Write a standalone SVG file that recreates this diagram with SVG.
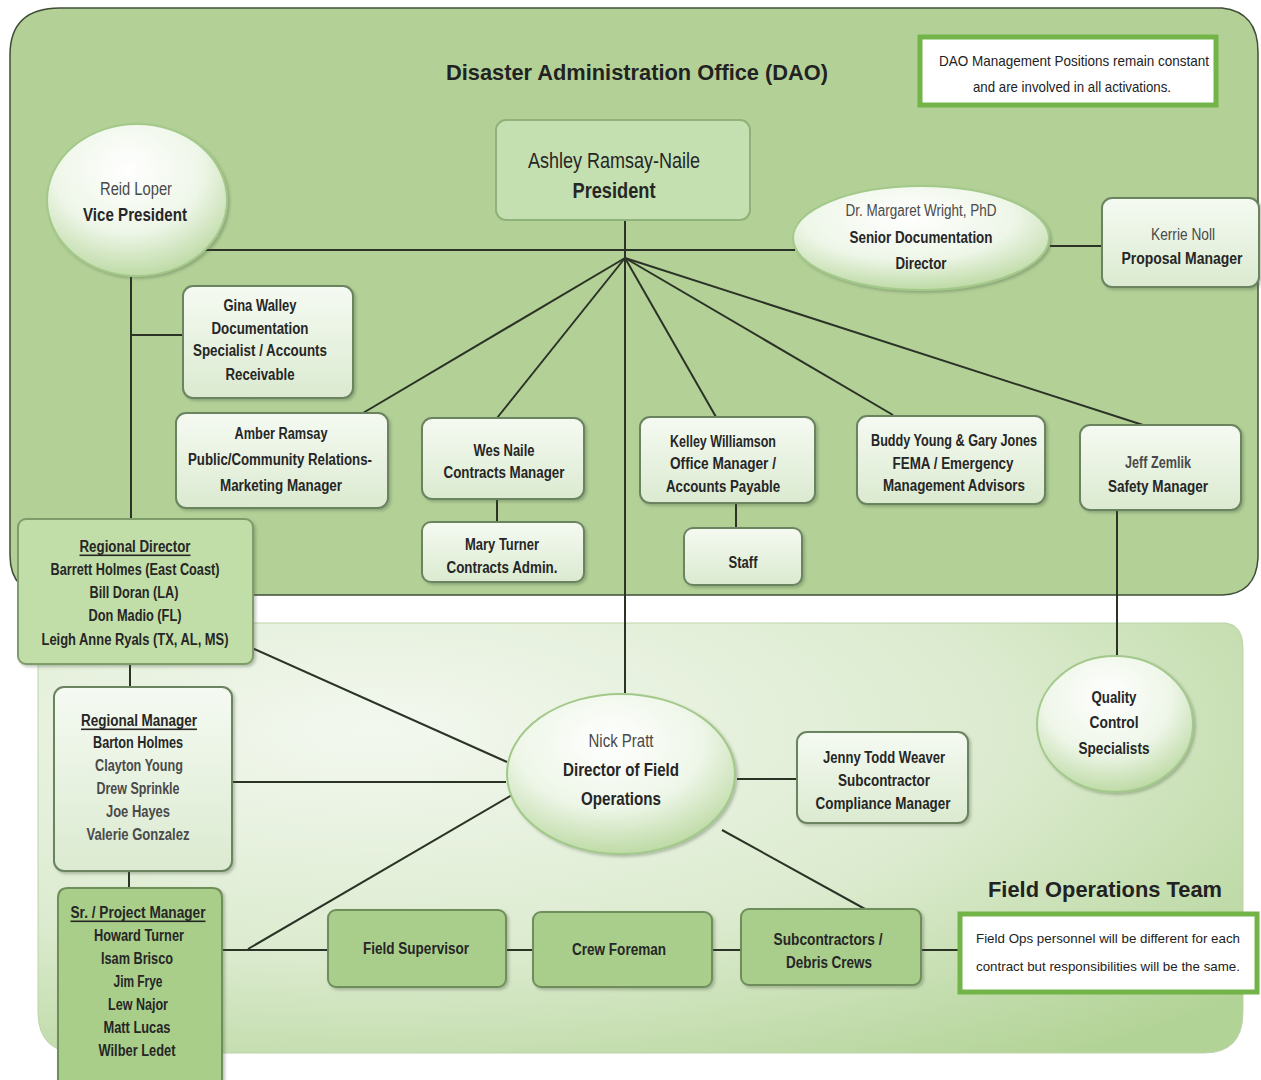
<svg xmlns="http://www.w3.org/2000/svg" width="1261" height="1080" viewBox="0 0 1261 1080">
<defs>
<radialGradient id="fieldG" cx="0.28" cy="0.25" r="0.95">
<stop offset="0" stop-color="#f3f8ef"/>
<stop offset="0.55" stop-color="#dcebcf"/>
<stop offset="1" stop-color="#b2d396"/>
</radialGradient>
<radialGradient id="ellG" cx="0.45" cy="0.3" r="0.75">
<stop offset="0" stop-color="#ffffff"/>
<stop offset="0.55" stop-color="#eef6e8"/>
<stop offset="1" stop-color="#b6d69b"/>
</radialGradient>
<linearGradient id="lightG" x1="0" y1="0" x2="0" y2="1">
<stop offset="0" stop-color="#f5faf2"/>
<stop offset="1" stop-color="#dbead0"/>
</linearGradient>
<filter id="sh" x="-10%" y="-10%" width="125%" height="125%">
<feDropShadow dx="2" dy="2" stdDeviation="1.5" flood-color="#4a5a40" flood-opacity="0.35"/>
</filter>
</defs>
<style>
text{font-family:"Liberation Sans Narrow","Liberation Sans",Arial,sans-serif;fill:#262626;text-anchor:middle;dominant-baseline:central;font-size:16px;font-weight:bold}
.n{font-weight:normal}
.g{fill:#4a4a4a}
.u{text-decoration:underline}
.big{font-size:22px}
.hd{font-family:"Liberation Sans",Arial,sans-serif;font-size:22px;font-weight:bold;fill:#222}
.note{font-size:15px;font-weight:normal;fill:#222}
.fn{font-size:13.5px;font-weight:normal;fill:#222}
.lb{fill:url(#lightG);stroke:#6b8460;stroke-width:2}
.db{fill:#a9ce8b;stroke:#6f8e5c;stroke-width:2}
.el{fill:url(#ellG);stroke:#a3c98a;stroke-width:2}
.nb{fill:#ffffff;stroke:#72b448;stroke-width:5}
.c line{stroke:#2b3326;stroke-width:2}
</style>
<rect x="0" y="0" width="1261" height="1080" fill="#ffffff"/>
<g id="panel-dao">
<path d="M10,55 Q10,8 60,8 L1222,8 Q1258,12 1258,52 L1258,558 Q1256,594 1222,595 L52,595 Q10,595 10,555 Z" fill="#b3d197" stroke="#3f4d37" stroke-width="1.5"/>
</g>
<g id="panel-field">
<path d="M38,652 Q38,623 66,623 L1226,623 Q1243,625 1243,648 L1243,1012 Q1243,1053 1204,1053 L80,1053 Q38,1053 38,1012 Z" fill="url(#fieldG)" stroke="#bcd4aa" stroke-width="1"/>
</g>
<text class="hd" x="637" y="72" textLength="382" lengthAdjust="spacingAndGlyphs">Disaster Administration Office (DAO)</text>
<text class="hd" x="1105" y="889" textLength="234" lengthAdjust="spacingAndGlyphs">Field Operations Team</text>
<g class="c" id="connectors">
<line x1="203" y1="250" x2="795" y2="250"/>
<line x1="625" y1="220" x2="625" y2="693"/>
<line x1="625" y1="258" x2="363" y2="413"/>
<line x1="625" y1="258" x2="497" y2="418"/>
<line x1="625" y1="258" x2="716" y2="417"/>
<line x1="625" y1="258" x2="893" y2="415"/>
<line x1="625" y1="258" x2="1143" y2="425"/>
<line x1="1050" y1="246" x2="1102" y2="246"/>
<line x1="131" y1="277" x2="131" y2="519"/>
<line x1="131" y1="335" x2="184" y2="335"/>
<line x1="497" y1="499" x2="497" y2="522"/>
<line x1="736" y1="503" x2="736" y2="528"/>
<line x1="1117" y1="510" x2="1117" y2="656"/>
<line x1="130" y1="664" x2="130" y2="687"/>
<line x1="129" y1="871" x2="129" y2="887"/>
<line x1="252" y1="648" x2="507" y2="762"/>
<line x1="232" y1="782" x2="506" y2="782"/>
<line x1="248" y1="949" x2="512" y2="795"/>
<line x1="737" y1="779" x2="797" y2="779"/>
<line x1="722" y1="830" x2="865" y2="909"/>
<line x1="222" y1="950" x2="328" y2="950"/>
<line x1="506" y1="950" x2="533" y2="950"/>
<line x1="712" y1="950" x2="741" y2="950"/>
<line x1="921" y1="950" x2="958" y2="950"/>
</g>
<g id="dao-note">
<rect class="nb" x="920" y="37" width="296" height="68"/>
<text class="note" x="1074" y="60" textLength="270" lengthAdjust="spacingAndGlyphs">DAO Management Positions remain constant</text>
<text class="note" x="1072" y="86" textLength="198" lengthAdjust="spacingAndGlyphs">and are involved in all activations.</text>
</g>
<g id="president">
<rect x="496" y="120" width="254" height="100" rx="10" fill="#c5e0b0" stroke="#8fb27a" stroke-width="2"/>
<text class="big n" x="614" y="160" textLength="172" lengthAdjust="spacingAndGlyphs">Ashley Ramsay-Naile</text>
<text class="big" x="614" y="190" textLength="83" lengthAdjust="spacingAndGlyphs">President</text>
</g>
<g id="vice-president">
<ellipse class="el" cx="137" cy="200" rx="90" ry="76" filter="url(#sh)"/>
<text class="n g" x="136" y="189" style="font-size:18px" textLength="72" lengthAdjust="spacingAndGlyphs">Reid Loper</text>
<text x="135" y="214" style="font-size:19px" textLength="104" lengthAdjust="spacingAndGlyphs">Vice President</text>
</g>
<g id="margaret">
<ellipse class="el" cx="921" cy="238" rx="128" ry="52" filter="url(#sh)"/>
<text class="n g" x="921" y="210" textLength="151" lengthAdjust="spacingAndGlyphs">Dr. Margaret Wright, PhD</text>
<text x="921" y="237" textLength="143" lengthAdjust="spacingAndGlyphs">Senior Documentation</text>
<text x="921" y="263" textLength="51" lengthAdjust="spacingAndGlyphs">Director</text>
</g>
<g id="kerrie">
<rect class="lb" x="1102" y="198" width="157" height="89" rx="10" filter="url(#sh)"/>
<text class="n g" x="1183" y="234" textLength="64" lengthAdjust="spacingAndGlyphs">Kerrie Noll</text>
<text x="1182" y="258" textLength="121" lengthAdjust="spacingAndGlyphs">Proposal Manager</text>
</g>
<g id="gina">
<rect class="lb" x="183" y="286" width="170" height="112" rx="10" filter="url(#sh)"/>
<text x="260" y="305" textLength="73" lengthAdjust="spacingAndGlyphs">Gina Walley</text>
<text x="260" y="328" textLength="97" lengthAdjust="spacingAndGlyphs">Documentation</text>
<text x="260" y="350" textLength="134" lengthAdjust="spacingAndGlyphs">Specialist / Accounts</text>
<text x="260" y="374" textLength="69" lengthAdjust="spacingAndGlyphs">Receivable</text>
</g>
<g id="amber">
<rect class="lb" x="176" y="413" width="212" height="95" rx="10" filter="url(#sh)"/>
<text x="281" y="433" textLength="93" lengthAdjust="spacingAndGlyphs">Amber Ramsay</text>
<text x="280" y="459" textLength="184" lengthAdjust="spacingAndGlyphs">Public/Community Relations-</text>
<text x="281" y="485" textLength="122" lengthAdjust="spacingAndGlyphs">Marketing Manager</text>
</g>
<g id="wes">
<rect class="lb" x="422" y="418" width="162" height="81" rx="10" filter="url(#sh)"/>
<text x="504" y="450" textLength="61" lengthAdjust="spacingAndGlyphs">Wes Naile</text>
<text x="504" y="472" textLength="121" lengthAdjust="spacingAndGlyphs">Contracts Manager</text>
</g>
<g id="mary">
<rect class="lb" x="422" y="522" width="162" height="60" rx="9" filter="url(#sh)"/>
<text x="502" y="544" textLength="74" lengthAdjust="spacingAndGlyphs">Mary Turner</text>
<text x="502" y="567" textLength="111" lengthAdjust="spacingAndGlyphs">Contracts Admin.</text>
</g>
<g id="kelley">
<rect class="lb" x="640" y="417" width="175" height="86" rx="10" filter="url(#sh)"/>
<text x="723" y="441" textLength="106" lengthAdjust="spacingAndGlyphs">Kelley Williamson</text>
<text x="723" y="463" textLength="106" lengthAdjust="spacingAndGlyphs">Office Manager /</text>
<text x="723" y="486" textLength="114" lengthAdjust="spacingAndGlyphs">Accounts Payable</text>
</g>
<g id="staff">
<rect class="lb" x="684" y="528" width="118" height="57" rx="9" filter="url(#sh)"/>
<text x="743" y="562" textLength="29" lengthAdjust="spacingAndGlyphs">Staff</text>
</g>
<g id="buddy">
<rect class="lb" x="857" y="416" width="188" height="88" rx="10" filter="url(#sh)"/>
<text x="954" y="440" textLength="166" lengthAdjust="spacingAndGlyphs">Buddy Young &amp; Gary Jones</text>
<text x="953" y="463" textLength="121" lengthAdjust="spacingAndGlyphs">FEMA / Emergency</text>
<text x="954" y="485" textLength="142" lengthAdjust="spacingAndGlyphs">Management Advisors</text>
</g>
<g id="jeff">
<rect class="lb" x="1080" y="425" width="161" height="85" rx="10" filter="url(#sh)"/>
<text class="g" x="1158" y="462" textLength="66" lengthAdjust="spacingAndGlyphs">Jeff Zemlik</text>
<text x="1158" y="486" textLength="100" lengthAdjust="spacingAndGlyphs">Safety Manager</text>
</g>
<g id="quality-control">
<ellipse class="el" cx="1115" cy="724" rx="78" ry="68" filter="url(#sh)"/>
<text x="1114" y="697" textLength="45" lengthAdjust="spacingAndGlyphs">Quality</text>
<text x="1114" y="722" textLength="49" lengthAdjust="spacingAndGlyphs">Control</text>
<text x="1114" y="748" textLength="71" lengthAdjust="spacingAndGlyphs">Specialists</text>
</g>
<g id="regional-director">
<rect x="18" y="519" width="235" height="145" rx="8" fill="#c2dea8" stroke="#7d9c69" stroke-width="2" filter="url(#sh)"/>
<text class="u" x="135" y="546" textLength="111" lengthAdjust="spacingAndGlyphs">Regional Director</text>
<text x="135" y="569" textLength="169" lengthAdjust="spacingAndGlyphs">Barrett Holmes (East Coast)</text>
<text x="134" y="592" textLength="89" lengthAdjust="spacingAndGlyphs">Bill Doran (LA)</text>
<text x="135" y="615" textLength="93" lengthAdjust="spacingAndGlyphs">Don Madio (FL)</text>
<text x="135" y="639" textLength="187" lengthAdjust="spacingAndGlyphs">Leigh Anne Ryals (TX, AL, MS)</text>
</g>
<g id="regional-manager">
<rect x="54" y="687" width="178" height="184" rx="10" fill="url(#lightG)" stroke="#6b8460" stroke-width="2" filter="url(#sh)"/>
<text class="u" x="139" y="720" textLength="116" lengthAdjust="spacingAndGlyphs">Regional Manager</text>
<text x="138" y="742" textLength="90" lengthAdjust="spacingAndGlyphs">Barton Holmes</text>
<text class="g" x="139" y="765" textLength="88" lengthAdjust="spacingAndGlyphs">Clayton Young</text>
<text class="g" x="138" y="788" textLength="83" lengthAdjust="spacingAndGlyphs">Drew Sprinkle</text>
<text class="g" x="138" y="811" textLength="64" lengthAdjust="spacingAndGlyphs">Joe Hayes</text>
<text class="g" x="138" y="834" textLength="103" lengthAdjust="spacingAndGlyphs">Valerie Gonzalez</text>
</g>
<g id="project-manager">
<path d="M58,1082 L58,898 Q58,888 68,888 L212,888 Q222,888 222,898 L222,1082" fill="#a8ce8a" stroke="#6f8e5c" stroke-width="2" filter="url(#sh)"/>
<text class="u" x="138" y="912" textLength="135" lengthAdjust="spacingAndGlyphs">Sr. / Project Manager</text>
<text x="139" y="935" textLength="90" lengthAdjust="spacingAndGlyphs">Howard Turner</text>
<text x="137" y="958" textLength="72" lengthAdjust="spacingAndGlyphs">Isam Brisco</text>
<text x="138" y="981" textLength="49" lengthAdjust="spacingAndGlyphs">Jim Frye</text>
<text x="138" y="1004" textLength="60" lengthAdjust="spacingAndGlyphs">Lew Najor</text>
<text x="137" y="1027" textLength="67" lengthAdjust="spacingAndGlyphs">Matt Lucas</text>
<text x="137" y="1050" textLength="77" lengthAdjust="spacingAndGlyphs">Wilber Ledet</text>
</g>
<g id="nick">
<ellipse class="el" cx="621" cy="774" rx="114" ry="80" filter="url(#sh)"/>
<text class="n g" x="621" y="740" style="font-size:19px" textLength="65" lengthAdjust="spacingAndGlyphs">Nick Pratt</text>
<text x="621" y="769" style="font-size:19px" textLength="116" lengthAdjust="spacingAndGlyphs">Director of Field</text>
<text x="621" y="798" style="font-size:19px" textLength="80" lengthAdjust="spacingAndGlyphs">Operations</text>
</g>
<g id="jenny">
<rect class="lb" x="797" y="732" width="171" height="91" rx="10" filter="url(#sh)"/>
<text x="884" y="757" textLength="122" lengthAdjust="spacingAndGlyphs">Jenny Todd Weaver</text>
<text x="884" y="780" textLength="92" lengthAdjust="spacingAndGlyphs">Subcontractor</text>
<text x="883" y="803" textLength="135" lengthAdjust="spacingAndGlyphs">Compliance Manager</text>
</g>
<g id="field-supervisor">
<rect class="db" x="328" y="910" width="178" height="77" rx="8" filter="url(#sh)"/>
<text x="416" y="948" textLength="106" lengthAdjust="spacingAndGlyphs">Field Supervisor</text>
</g>
<g id="crew-foreman">
<rect class="db" x="533" y="912" width="179" height="75" rx="8" filter="url(#sh)"/>
<text x="619" y="949" textLength="94" lengthAdjust="spacingAndGlyphs">Crew Foreman</text>
</g>
<g id="subcontractors">
<rect class="db" x="741" y="909" width="180" height="76" rx="8" filter="url(#sh)"/>
<text x="828" y="939" textLength="109" lengthAdjust="spacingAndGlyphs">Subcontractors /</text>
<text x="829" y="962" textLength="86" lengthAdjust="spacingAndGlyphs">Debris Crews</text>
</g>
<g id="field-note">
<rect class="nb" x="960" y="914" width="297" height="78"/>
<text class="fn" x="1108" y="938" textLength="264" lengthAdjust="spacingAndGlyphs">Field Ops personnel will be different for each</text>
<text class="fn" x="1108" y="966" textLength="264" lengthAdjust="spacingAndGlyphs">contract but responsibilities will be the same.</text>
</g>
</svg>
